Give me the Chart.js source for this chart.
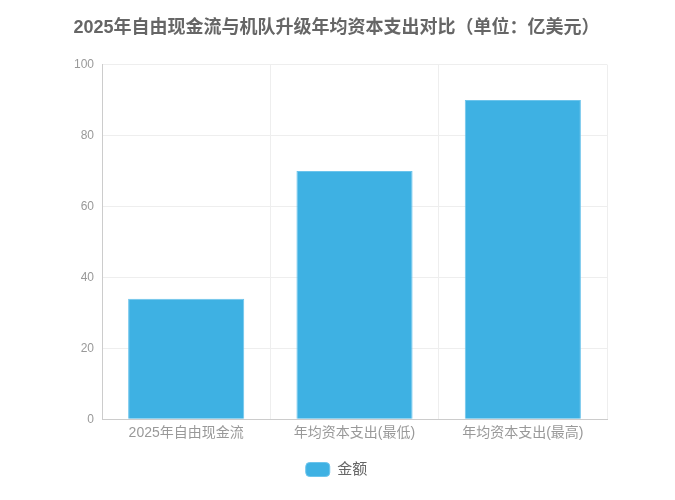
<!DOCTYPE html>
<html>
<head>
<meta charset="utf-8">
<script src="https://cdn.jsdelivr.net/npm/chart.js@4/dist/chart.umd.min.js"></script>
<style>
  html, body { margin: 0; padding: 0; background: #fff; }
  #wrap { width: 675px; height: 500px; }
</style>
</head>
<body>
<div id="wrap"><canvas id="chart" width="675" height="500"></canvas></div>
<script>
// chart data
const categories = ["2025年自由现金流", "年均资本支出(最低)", "年均资本支出(最高)"];
const amounts = [34, 70, 90];
const seriesName = "金额";
const titleText = "2025年自由现金流与机队升级年均资本支出对比（单位：亿美元）";

Chart.defaults.font.family = "'Liberation Sans', 'Noto Sans CJK SC', sans-serif";

const ctx = document.getElementById("chart").getContext("2d");
new Chart(ctx, {
  type: "bar",
  data: {
    labels: categories,
    datasets: [{
      label: seriesName,
      data: amounts,
      backgroundColor: "#3eb1e3",
      borderColor: "#6cc4ec",
      borderWidth: 1,
      barPercentage: 0.69,
      categoryPercentage: 1
    }]
  },
  options: {
    responsive: false,
    animation: false,
    layout: { padding: { left: 66, right: 68, top: 0, bottom: 13 } },
    plugins: {
      title: {
        display: true,
        text: titleText,
        color: "#666",
        font: { size: 18, weight: "bold" },
        padding: { top: 17, bottom: 26 }
      },
      legend: {
        position: "bottom",
        labels: {
          color: "#666",
          font: { size: 15 },
          boxWidth: 24,
          boxHeight: 14,
          useBorderRadius: true,
          borderRadius: 4,
          padding: 14
        }
      },
      tooltip: { enabled: false }
    },
    scales: {
      x: {
        grid: { color: "#eeeeee", drawTicks: false, offset: true },
        border: { color: "#cccccc" },
        ticks: { color: "#999", font: { size: 14 }, padding: 6 }
      },
      y: {
        min: 0,
        max: 100,
        ticks: { stepSize: 20, color: "#999", font: { size: 12 }, padding: 8 },
        grid: { color: "#eeeeee", drawTicks: false },
        border: { color: "#cccccc" }
      }
    }
  }
});
</script>
</body>
</html>
